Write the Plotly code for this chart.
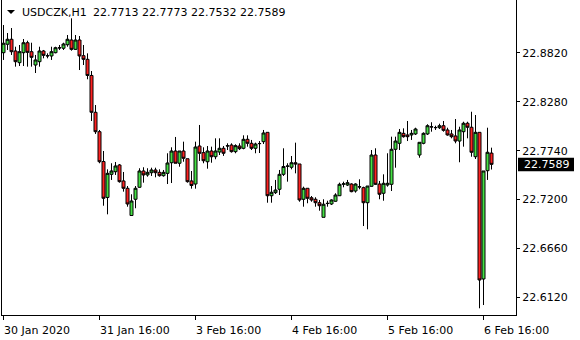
import plotly.graph_objects as go

# ---- data ----
open_ = [22.8820, 22.8913, 22.8968, 22.8839, 22.8710, 22.8820, 22.8930, 22.8831, 22.8684, 22.8721,
         22.8839, 22.8784, 22.8784, 22.8820, 22.8875, 22.8869, 22.8908, 22.8960, 22.8857, 22.8960,
         22.8787, 22.8747, 22.8569, 22.8163, 22.7949, 22.7620, 22.7224, 22.7479, 22.7508, 22.7582,
         22.7406, 22.7325, 22.7025, 22.7204, 22.7336, 22.7516, 22.7472, 22.7497, 22.7527, 22.7501,
         22.7464, 22.7490, 22.7607, 22.7736, 22.7601, 22.7736, 22.7651, 22.7406, 22.7372, 22.7791,
         22.7718, 22.7618, 22.7736, 22.7673, 22.7725, 22.7766, 22.7795, 22.7802, 22.7729, 22.7791,
         22.7766, 22.7865, 22.7821, 22.7766, 22.7817, 22.7839, 22.7942, 22.7243, 22.7277, 22.7314,
         22.7479, 22.7571, 22.7557, 22.7607, 22.7593, 22.7204, 22.7325, 22.7221, 22.7204, 22.7166,
         22.7005, 22.7160, 22.7152, 22.7182, 22.7243, 22.7370, 22.7361, 22.7372, 22.7295, 22.7343,
         22.7332, 22.7166, 22.7347, 22.7692, 22.7372, 22.7270, 22.7361, 22.7369, 22.7755, 22.7821,
         22.7931, 22.7913, 22.7913, 22.7924, 22.7692, 22.7821, 22.7924, 22.8001, 22.7993, 22.7993,
         22.8015, 22.7968, 22.7924, 22.7902, 22.7846, 22.7949, 22.8042, 22.7998, 22.7673, 22.7942,
         22.6325, 22.7519, 22.7713]
high = [22.9125, 22.9037, 22.9092, 22.8886, 22.8905, 22.8971, 22.8952, 22.8930, 22.8795, 22.8886,
        22.8850, 22.8813, 22.8886, 22.8886, 22.8905, 22.8930, 22.9015, 22.9199, 22.9015, 22.9004,
        22.8905, 22.8813, 22.8618, 22.8243, 22.7968, 22.7736, 22.7534, 22.7601, 22.7615, 22.7593,
        22.7505, 22.7350, 22.7259, 22.7350, 22.7546, 22.7557, 22.7546, 22.7552, 22.7552, 22.7534,
        22.7527, 22.7711, 22.7777, 22.7891, 22.7736, 22.7839, 22.7651, 22.7516, 22.7839, 22.8023,
        22.7777, 22.7791, 22.7784, 22.7876, 22.7876, 22.7791, 22.7821, 22.7821, 22.7810, 22.7821,
        22.7909, 22.7909, 22.7858, 22.7828, 22.7846, 22.7968, 22.7942, 22.7350, 22.7417, 22.7527,
        22.7766, 22.7601, 22.7681, 22.7828, 22.7593, 22.7343, 22.7325, 22.7240, 22.7226, 22.7196,
        22.7204, 22.7188, 22.7204, 22.7270, 22.7387, 22.7398, 22.7417, 22.7380, 22.7380, 22.7424,
        22.7343, 22.7350, 22.7747, 22.7766, 22.7406, 22.7479, 22.7711, 22.7894, 22.7894, 22.7979,
        22.7986, 22.8067, 22.7968, 22.7993, 22.7832, 22.7942, 22.8031, 22.8053, 22.8015, 22.8037,
        22.8067, 22.7993, 22.7968, 22.8089, 22.8004, 22.8059, 22.8059, 22.8169, 22.8133, 22.7942,
        22.7516, 22.7993, 22.7773]
low = [22.8740, 22.8850, 22.8795, 22.8666, 22.8673, 22.8673, 22.8666, 22.8666, 22.8596, 22.8666,
       22.8758, 22.8758, 22.8740, 22.8813, 22.8850, 22.8850, 22.8886, 22.8842, 22.8850, 22.8629,
       22.8684, 22.8527, 22.8067, 22.7924, 22.7601, 22.7133, 22.7038, 22.7417, 22.7472, 22.7387,
       22.7288, 22.7122, 22.7023, 22.7105, 22.7332, 22.7387, 22.7453, 22.7461, 22.7446, 22.7453,
       22.7453, 22.7372, 22.7383, 22.7601, 22.7563, 22.7618, 22.7387, 22.7321, 22.7321, 22.7626,
       22.7601, 22.7541, 22.7607, 22.7645, 22.7692, 22.7682, 22.7747, 22.7718, 22.7711, 22.7747,
       22.7755, 22.7784, 22.7747, 22.7711, 22.7714, 22.7813, 22.7166, 22.7166, 22.7262, 22.7251,
       22.7461, 22.7398, 22.7534, 22.7490, 22.7177, 22.7122, 22.7160, 22.7177, 22.7122, 22.7078,
       22.7005, 22.7122, 22.7141, 22.7177, 22.7240, 22.7336, 22.7350, 22.7281, 22.7277, 22.7314,
       22.6909, 22.6873, 22.7343, 22.7361, 22.7204, 22.7188, 22.7343, 22.7295, 22.7552, 22.7747,
       22.7883, 22.7846, 22.7858, 22.7913, 22.7662, 22.7810, 22.7913, 22.7949, 22.7968, 22.7979,
       22.7949, 22.7905, 22.7876, 22.7821, 22.7612, 22.7784, 22.7876, 22.7673, 22.7648, 22.6002,
       22.6038, 22.7417, 22.7532]
close = [22.8924, 22.8968, 22.8831, 22.8721, 22.8831, 22.8930, 22.8824, 22.8769, 22.8740, 22.8839,
         22.8791, 22.8787, 22.8831, 22.8875, 22.8873, 22.8916, 22.8968, 22.8857, 22.8960, 22.8784,
         22.8747, 22.8569, 22.8163, 22.7949, 22.7618, 22.7215, 22.7490, 22.7516, 22.7571, 22.7398,
         22.7325, 22.7152, 22.7185, 22.7325, 22.7516, 22.7472, 22.7501, 22.7527, 22.7497, 22.7464,
         22.7501, 22.7604, 22.7736, 22.7601, 22.7736, 22.7656, 22.7398, 22.7356, 22.7780, 22.7711,
         22.7629, 22.7736, 22.7673, 22.7736, 22.7766, 22.7711, 22.7792, 22.7729, 22.7795, 22.7762,
         22.7865, 22.7821, 22.7766, 22.7813, 22.7819, 22.7935, 22.7243, 22.7281, 22.7306, 22.7479,
         22.7565, 22.7568, 22.7607, 22.7593, 22.7196, 22.7325, 22.7215, 22.7196, 22.7166, 22.7133,
         22.7149, 22.7157, 22.7196, 22.7251, 22.7369, 22.7374, 22.7387, 22.7288, 22.7372, 22.7340,
         22.7166, 22.7350, 22.7692, 22.7369, 22.7259, 22.7380, 22.7380, 22.7755, 22.7846, 22.7942,
         22.7894, 22.7894, 22.7931, 22.7979, 22.7832, 22.7931, 22.8015, 22.8003, 22.7995, 22.8015,
         22.7964, 22.7913, 22.7894, 22.7846, 22.7968, 22.8042, 22.7998, 22.7722, 22.7942, 22.6314,
         22.7516, 22.7722, 22.7589]

y_tick_vals = [22.6120, 22.6660, 22.7200, 22.7740, 22.8280, 22.8820]
x_tick_idx = [0, 24, 48, 72, 96, 120]
x_tick_text = ["30 Jan 2020", "31 Jan 16:00", "3 Feb 16:00", "4 Feb 16:00", "5 Feb 16:00", "6 Feb 16:00"]
symbol = "USDCZK,H1"
last_price = close[-1]

FONT = "DejaVu Sans"
bars = list(range(len(close)))

fig = go.Figure()
fig.add_trace(go.Candlestick(
    x=bars, open=open_, high=high, low=low, close=close,
    increasing=dict(fillcolor="#44e044", line=dict(color="black", width=1)),
    decreasing=dict(fillcolor="#ff2222", line=dict(color="black", width=1)),
    whiskerwidth=0, showlegend=False, hoverinfo="skip",
))

annotations = []
for i, t in zip(x_tick_idx, x_tick_text):
    annotations.append(dict(x=i, y=0, xref="x", yref="paper", text=t, showarrow=False,
                            xanchor="left", yanchor="top", xshift=-2, yshift=-7,
                            font=dict(family=FONT, size=11, color="black")))
annotations.append(dict(x=0, y=1, xref="paper", yref="paper", text=symbol, showarrow=False,
                        xanchor="left", yanchor="middle", xshift=18, yshift=-12,
                        font=dict(family=FONT, size=11, color="black")))
annotations.append(dict(x=0, y=1, xref="paper", yref="paper",
                        text=" ".join(f"{v:.4f}" for v in (open_[-1], high[-1], low[-1], close[-1])),
                        showarrow=False, xanchor="left", yanchor="middle", xshift=89, yshift=-12,
                        font=dict(family=FONT, size=11, color="black")))
annotations.append(dict(x=1, y=last_price, xref="paper", yref="y", text=f"{last_price:.4f}",
                        showarrow=False, xanchor="left", yanchor="middle", xshift=6,
                        font=dict(family=FONT, size=11, color="white")))

shapes = [
    dict(type="path", xref="paper", yref="paper", xsizemode="pixel", ysizemode="pixel",
         xanchor=0, yanchor=1, path="M 5,-10 L 13,-10 L 9,-14 Z",
         fillcolor="black", line=dict(width=0)),
    dict(type="rect", xref="paper", yref="y", xsizemode="pixel", ysizemode="pixel",
         xanchor=1, yanchor=last_price, x0=2, x1=58, y0=-7, y1=6.5,
         fillcolor="black", line=dict(width=0), layer="above"),
]

fig.update_layout(
    width=580, height=340,
    margin=dict(l=2, r=64, t=0, b=25),
    paper_bgcolor="white", plot_bgcolor="white",
    font=dict(family=FONT, size=11, color="black"),
    boxgap=0.25, boxgroupgap=0,
    xaxis=dict(range=[-0.375, 128.125], rangeslider=dict(visible=False), showgrid=False,
               zeroline=False, showline=True, linecolor="black", linewidth=1,
               tickvals=x_tick_idx, ticks="outside", ticklen=4, tickcolor="black",
               showticklabels=False, fixedrange=True),
    yaxis=dict(side="right", range=[22.5928, 22.9401], tickvals=y_tick_vals,
               ticktext=[f"{v:.4f}" for v in y_tick_vals], ticks="outside", ticklen=3,
               tickcolor="black", showline=True, mirror=True, linecolor="black", linewidth=1,
               showgrid=False, zeroline=False, fixedrange=True,
               tickfont=dict(family=FONT, size=11, color="black")),
    annotations=annotations, shapes=shapes,
)

fig.write_html("out.html")
